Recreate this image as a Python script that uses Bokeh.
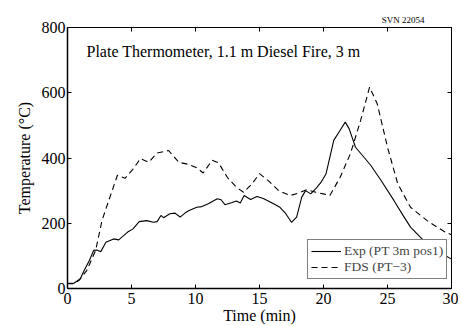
from bokeh.plotting import figure
from bokeh.models import Range1d, LinearAxis, Label, Legend, LegendItem, FixedTicker
from bokeh.embed import file_html
from bokeh.resources import INLINE

exp_t = [0, 0.5, 1.0, 1.3, 1.7, 2.05, 2.3, 2.6, 3.0, 3.6, 4.0, 4.7, 5.1, 5.6, 6.2, 6.7, 7.0, 7.3, 7.5, 8.0, 8.4, 8.8,
         9.2, 9.5, 10.1, 10.5, 11.0, 11.7, 12.0, 12.3, 12.8, 13.2, 13.5, 13.8, 14.3, 14.8, 15.3, 16.1, 16.6, 17.0,
         17.5, 17.9, 18.3, 18.6, 19.0, 19.4, 19.8, 20.2, 20.5, 20.8, 21.3, 21.7, 22.0, 22.5, 23.0, 23.7, 24.5,
         25.5, 26.2, 26.8, 27.5, 28.1, 28.6, 29.2, 30.0]
exp_v = [16, 16, 30, 55, 85, 117, 118, 113, 142, 152, 149, 173, 182, 205, 208, 203, 205, 224, 217, 229, 231, 219,
         232, 239, 249, 251, 260, 275, 272, 257, 263, 268, 262, 285, 273, 282, 276, 260, 249, 232,
         203, 219, 280, 300, 290, 306, 325, 352, 403, 454, 485, 510, 490, 433, 410, 377, 331,
         270, 225, 188, 160, 137, 122, 108, 90]

fds_t = [0, 0.5, 0.9, 1.5, 2.2, 2.7, 3.4, 3.9, 4.5, 5.1, 5.7, 6.35, 7.0, 7.9, 8.7, 9.5, 10.1, 10.6, 11.3, 11.8,
         12.5, 13.2, 13.75, 14.4, 15.0, 15.7, 16.5, 17.4, 18.0, 18.7, 19.4, 20.0, 20.5, 21.3, 22.1, 22.9, 23.6,
         24.2, 25.0, 25.8, 26.8, 28.1, 29.0, 29.6, 30.0]
fds_v = [15, 15, 25, 55, 117, 209, 290, 347, 338, 365, 398, 387, 415, 423, 387, 380, 370, 354, 393, 385,
         340, 310, 295, 320, 352, 330, 300, 285, 292, 303, 295, 290, 285, 341, 413, 515, 617,
         566, 433, 321, 249, 208, 185, 171, 165]

x_ticks = [0, 5, 10, 15, 20, 25, 30]
y_ticks = [0, 200, 400, 600, 800]

FONT = "Liberation Serif"

p = figure(width=458, height=326, output_backend="svg", toolbar_location=None,
           x_range=Range1d(0, 30), y_range=Range1d(0, 800),
           min_border_left=67, min_border_right=7, min_border_top=27, min_border_bottom=38)
p.grid.visible = False
p.outline_line_color = "black"
p.outline_line_width = 1
p.background_fill_color = "white"

p.title.text = "SVN 22054"
p.title.align = "right"
p.title.text_font = FONT
p.title.text_font_size = "9px"
p.title.text_font_style = "normal"
p.title.text_color = "black"
p.title.offset = 27
p.title.standoff = 6

for ax in (p.xaxis[0], p.yaxis[0]):
    ax.major_tick_in = 4
    ax.major_tick_out = 0
    ax.minor_tick_in = 0
    ax.minor_tick_out = 0
    ax.major_label_text_font = FONT
    ax.major_label_text_font_size = "16px"
    ax.major_label_text_color = "black"
    ax.axis_label_text_font = FONT
    ax.axis_label_text_font_size = "16px"
    ax.axis_label_text_font_style = "normal"
    ax.axis_label_text_color = "black"
    ax.axis_line_color = "black"
    ax.axis_line_width = 1.5
    ax.major_tick_line_color = "black"

p.xaxis[0].ticker = FixedTicker(ticks=x_ticks)
p.yaxis[0].ticker = FixedTicker(ticks=y_ticks)
p.xaxis[0].axis_label = "Time (min)"
p.yaxis[0].axis_label = "Temperature (\u00b0C)"
p.xaxis[0].major_label_standoff = 4
p.xaxis[0].axis_label_standoff = 0
p.yaxis[0].major_label_standoff = 2
p.yaxis[0].axis_label_standoff = 6

top = LinearAxis(ticker=FixedTicker(ticks=x_ticks), major_tick_in=4, major_tick_out=0,
                 minor_tick_in=0, minor_tick_out=0, major_label_text_color=None,
                 major_label_text_font_size="1px", major_tick_line_color="black",
                 major_label_standoff=0, axis_line_color="black")
right = LinearAxis(ticker=FixedTicker(ticks=y_ticks), major_tick_in=4, major_tick_out=0,
                   minor_tick_in=0, minor_tick_out=0, major_label_text_color=None,
                   major_label_text_font_size="1px", major_tick_line_color="black",
                   major_label_standoff=0, axis_line_color="black")
p.add_layout(top, "above")
p.add_layout(right, "right")

r_exp = p.line(exp_t, exp_v, line_color="black", line_width=1.1)
r_fds = p.line(fds_t, fds_v, line_color="black", line_width=1.1, line_dash="6 4")

legend = Legend(items=[LegendItem(label="Exp (PT 3m pos1)", renderers=[r_exp]),
                       LegendItem(label="FDS (PT\u22123)", renderers=[r_fds])],
                location=(240, 9), margin=0, padding=3, spacing=0,
                glyph_width=30, glyph_height=12, label_height=12, label_standoff=3,
                label_text_font=FONT, label_text_font_size="13.5px",
                border_line_color="black", border_line_width=1.2,
                background_fill_alpha=1.0)
p.add_layout(legend, "center")

p.add_layout(Label(x=19, y=229, x_units="screen", y_units="screen",
                   text="Plate Thermometer, 1.1 m Diesel Fire, 3 m",
                   text_font=FONT, text_font_size="16px", text_color="black"))

open("out.html", "w").write(file_html(p, INLINE))
